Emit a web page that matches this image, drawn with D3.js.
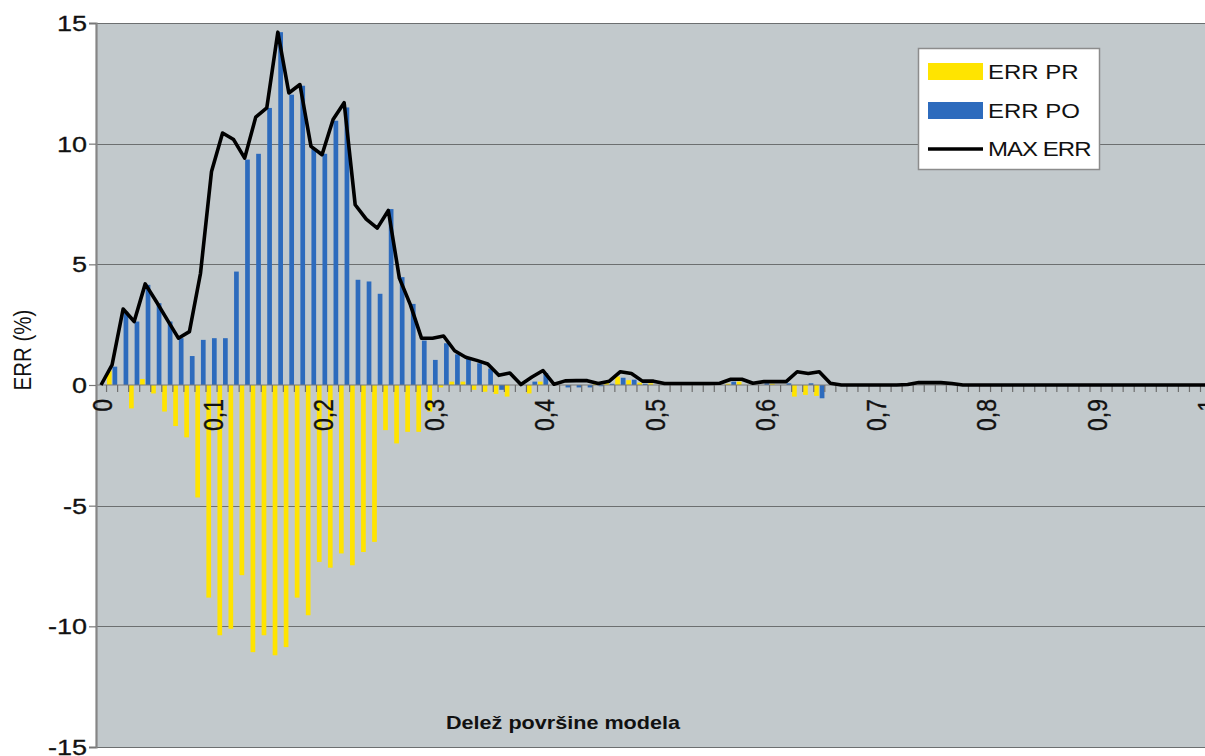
<!DOCTYPE html>
<html>
<head>
<meta charset="utf-8">
<script src="https://cdn.jsdelivr.net/npm/d3@7/dist/d3.min.js"></script>
<style>
  html, body { margin: 0; padding: 0; background: #ffffff; }
  svg { display: block; }
  text { font-family: "Liberation Sans", Arial, sans-serif; fill: #111; }
</style>
</head>
<body>
<svg id="chart" width="1205" height="756"></svg>
<script>
// ---------------- DATA ----------------
const categories = [
  0.00,0.01,0.02,0.03,0.04,0.05,0.06,0.07,0.08,0.09,
  0.10,0.11,0.12,0.13,0.14,0.15,0.16,0.17,0.18,0.19,
  0.20,0.21,0.22,0.23,0.24,0.25,0.26,0.27,0.28,0.29,
  0.30,0.31,0.32,0.33,0.34,0.35,0.36,0.37,0.38,0.39,
  0.40,0.41,0.42,0.43,0.44,0.45,0.46,0.47,0.48,0.49,
  0.50,0.51,0.52,0.53,0.54,0.55,0.56,0.57,0.58,0.59,
  0.60,0.61,0.62,0.63,0.64,0.65,0.66,0.67,0.68,0.69,
  0.70,0.71,0.72,0.73,0.74,0.75,0.76,0.77,0.78,0.79,
  0.80,0.81,0.82,0.83,0.84,0.85,0.86,0.87,0.88,0.89,
  0.90,0.91,0.92,0.93,0.94,0.95,0.96,0.97,0.98,0.99,
  1.00
];
const xTickValues = [0.00,0.10,0.20,0.30,0.40,0.50,0.60,0.70,0.80,0.90,1.00];
const xTickLabels = ["0","0,1","0,2","0,3","0,4","0,5","0,6","0,7","0,8","0,9","1"];
const yTickValues = [-15,-10,-5,0,5,10,15];
const yTickLabels = ["-15","-10","-5","0","5","10","15"];

const errPR = [
  0,0.6,0,-0.97,0.25,-0.35,-1.1,-1.7,-2.17,-4.66,
  -8.81,-10.37,-10.1,-7.88,-11.07,-10.37,-11.2,-10.86,-8.81,-9.54,
  -7.33,-7.57,-6.98,-7.47,-6.92,-6.5,-1.87,-2.42,-1.94,-1.94,
  -1.1,-0.1,0.14,0.14,-0.2,-0.28,-0.37,-0.48,0,-0.35,
  0.14,0,0,0,0,0.05,0.1,0.35,0.2,0.1,
  0.07,0,0,0,0,0,0,0.05,0.14,0,
  0,0.05,0,-0.48,-0.41,-0.45,0,0,0,0,
  0,0,0,0,0,0,0,0,0,0,
  0,0,0,0,0,0,0,0,0,0,
  0,0,0,0,0,0,0,0,0,0,
  0
];
const errPO = [
  0,0.76,3.04,2.63,4.15,3.39,2.63,1.94,1.2,1.87,
  1.94,1.94,4.7,9.34,9.58,11.48,14.62,12.03,12.4,9.81,
  9.58,10.95,11.5,4.36,4.29,3.78,7.29,4.47,3.36,1.84,
  1.04,1.73,1.27,1.08,0.9,0.68,-0.2,0,0,0.14,
  0.5,0,-0.1,-0.1,-0.1,-0.05,0.05,0.3,0.22,0.05,
  0,0,0,0,0,0,0,0.14,0,0,
  0.07,0,0.07,0,0.07,-0.55,0,0,0,0,
  0,0,0,0,0,0,0,0,0,0,
  0,0,0,0,0,0,0,0,0,0,
  0,0,0,0,0,0,0,0,0,0,
  0
];
const maxErr = [
  0,0.83,3.15,2.63,4.19,3.46,2.7,1.94,2.21,4.62,
  8.85,10.44,10.17,9.4,11.1,11.48,14.62,12.1,12.45,9.89,
  9.54,11.0,11.7,7.47,6.87,6.5,7.23,4.43,3.32,1.94,
  1.94,2.03,1.42,1.15,1.02,0.87,0.4,0.5,0.02,0.33,
  0.6,0.03,0.17,0.18,0.18,0.06,0.16,0.55,0.48,0.16,
  0.16,0.06,0.06,0.06,0.06,0.06,0.07,0.24,0.24,0.07,
  0.14,0.14,0.14,0.55,0.48,0.55,0.07,0,0,0,
  0,0,0,0.02,0.1,0.1,0.1,0.06,0,0,
  0,0,0,0,0,0,0,0,0,0,
  0,0,0,0,0,0,0,0,0,0,
  0
];
const seriesNames = ["ERR PR","ERR PO","MAX ERR"];
const xTitle = "Delež površine modela";
const yTitle = "ERR (%)";

// ---------------- LAYOUT ----------------
const W = 1205, H = 756;
const plot = { left: 96, top: 23, bottom: 747 };
const bandW = 11.05;
const svg = d3.select("#chart");
const SX = 1.2; // horizontal text stretch of the original

const x = d3.scaleBand()
  .domain(categories)
  .range([plot.left - 0.5, plot.left - 0.5 + bandW * categories.length])
  .paddingInner(0).paddingOuter(0);
const y = d3.scaleLinear().domain([-15, 15]).range([plot.bottom, plot.top]);
const cx = c => x(c) + x.bandwidth() / 2;

// plot background
svg.append("rect")
  .attr("x", plot.left).attr("y", plot.top)
  .attr("width", W - plot.left + 20).attr("height", plot.bottom - plot.top)
  .attr("fill", "#c2c9cc");

// gridlines
svg.append("g").selectAll("line")
  .data(yTickValues.filter(v => v !== 0))
  .join("line")
  .attr("x1", plot.left).attr("x2", W + 20)
  .attr("y1", d => Math.round(y(d)) + 0.5).attr("y2", d => Math.round(y(d)) + 0.5)
  .attr("stroke", "#6c6f70").attr("stroke-width", 1.2);

// bars
const barW = 4.7;
const gBars = svg.append("g");
gBars.selectAll("rect.pr")
  .data(categories.map((c, i) => ({ c, v: errPR[i] })).filter(d => d.v !== 0))
  .join("rect").attr("class", "pr")
  .attr("x", d => cx(d.c) - 2.8 - barW / 2)
  .attr("width", barW)
  .attr("y", d => Math.min(y(d.v), y(0)))
  .attr("height", d => Math.abs(y(d.v) - y(0)))
  .attr("fill", "#ffe400");
gBars.selectAll("rect.po")
  .data(categories.map((c, i) => ({ c, v: errPO[i] })).filter(d => d.v !== 0))
  .join("rect").attr("class", "po")
  .attr("x", d => cx(d.c) + 2.8 - barW / 2)
  .attr("width", barW)
  .attr("y", d => Math.min(y(d.v), y(0)))
  .attr("height", d => Math.abs(y(d.v) - y(0)))
  .attr("fill", "#2d6bbd");

// x axis line and ticks (between categories)
const y0 = y(0);
svg.append("line")
  .attr("x1", plot.left).attr("x2", W + 20)
  .attr("y1", y0).attr("y2", y0)
  .attr("stroke", "#7a7a7a").attr("stroke-width", 1);
svg.append("g").selectAll("line")
  .data(categories.slice(1))
  .join("line")
  .attr("x1", d => x(d)).attr("x2", d => x(d))
  .attr("y1", y0).attr("y2", y0 + 7)
  .attr("stroke", "#6f6f6f").attr("stroke-width", 1.2);

// max line
const line = d3.line()
  .x((d, i) => cx(categories[i]))
  .y(d => y(d));
svg.append("path")
  .datum(maxErr)
  .attr("d", line)
  .attr("fill", "none")
  .attr("stroke", "#000")
  .attr("stroke-width", 3.6)
  .attr("stroke-linejoin", "round");

// y axis
const yAxis = d3.axisLeft(y)
  .tickValues(yTickValues)
  .tickSize(7)
  .tickPadding(3)
  .tickFormat((d, i) => yTickLabels[i]);
const gy = svg.append("g").attr("transform", `translate(${plot.left},0)`).call(yAxis);
gy.select(".domain").attr("stroke", "#858585").attr("stroke-width", 2.2);
gy.selectAll(".tick line").attr("stroke", "#777").attr("stroke-width", 1.2);
gy.selectAll(".tick text").remove();
svg.append("g").selectAll("text")
  .data(yTickValues)
  .join("text")
  .attr("transform", d => `translate(87,${y(d)}) scale(${SX},1)`)
  .attr("text-anchor", "end")
  .attr("dy", "0.36em")
  .attr("font-size", 22.5)
  .attr("stroke", "#111").attr("stroke-width", 0.3)
  .text((d, i) => yTickLabels[i]);

// x labels (rotated)
svg.append("g").selectAll("text")
  .data(xTickValues)
  .join("text")
  .attr("transform", d => `translate(${cx(d) + 1.5},${y0 + 14}) scale(${SX},1) rotate(-90)`)
  .attr("text-anchor", "end")
  .attr("dy", "0.36em")
  .attr("font-size", 23)
  .attr("stroke", "#111").attr("stroke-width", 0.3)
  .text((d, i) => xTickLabels[i]);

// titles
svg.append("text")
  .attr("transform", `translate(563,729) scale(${SX},1)`)
  .attr("text-anchor", "middle")
  .attr("font-size", 18)
  .attr("font-weight", "bold")
  .text(xTitle);
svg.append("text")
  .attr("transform", `translate(22,350) scale(${SX},1) rotate(-90)`)
  .attr("text-anchor", "middle")
  .attr("dy", "0.36em")
  .attr("font-size", 20.5)
  .text(yTitle);

// legend
const lg = svg.append("g");
lg.append("rect")
  .attr("x", 918.5).attr("y", 48.5).attr("width", 181).attr("height", 121)
  .attr("fill", "#fff").attr("stroke", "#8c8c8c").attr("stroke-width", 1.5);
const legY = [72, 111, 149];
lg.append("rect").attr("x", 928).attr("y", legY[0] - 9).attr("width", 55).attr("height", 17).attr("fill", "#ffe400");
lg.append("rect").attr("x", 928).attr("y", legY[1] - 9).attr("width", 55).attr("height", 17).attr("fill", "#2d6bbd");
lg.append("line").attr("x1", 928).attr("x2", 983).attr("y1", legY[2]).attr("y2", legY[2])
  .attr("stroke", "#000").attr("stroke-width", 3.5);
lg.selectAll("text.leg")
  .data(seriesNames)
  .join("text").attr("class", "leg")
  .attr("transform", (d, i) => `translate(988,${legY[i]}) scale(${SX},1)`)
  .attr("dy", "0.36em")
  .attr("font-size", 20)
  .attr("letter-spacing", (d, i) => i === 2 ? -0.8 : 0)
  .text(d => d);
</script>
</body>
</html>
